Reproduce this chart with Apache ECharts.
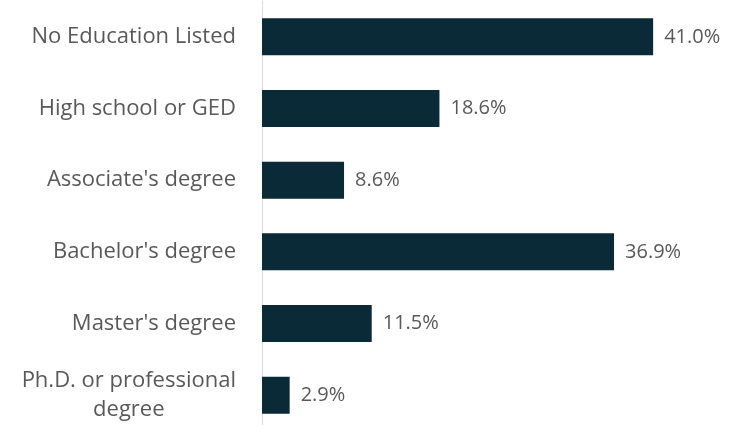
<!DOCTYPE html>
<html>
<head>
<meta charset="utf-8">
<script src="https://cdn.jsdelivr.net/npm/echarts@6/dist/echarts.min.js"></script>
<style>
  html, body { margin: 0; padding: 0; background: #fff; overflow: hidden; }
  #bar { width: 739px; height: 431px; }
</style>
</head>
<body>
<div id="bar"></div>
<script>
// 类别（从上到下）
var categories = [
  'No Education Listed',
  'High school or GED',
  "Associate's degree",
  "Bachelor's degree",
  "Master's degree",
  'Ph.D. or professional\ndegree'
];
var shares = [41.0, 18.6, 8.6, 36.9, 11.5, 2.9];

var chart = echarts.init(document.getElementById('bar'));
chart.setOption({
  animation: false,
  grid: {
    left: 262,
    right: 0,
    top: 1,
    bottom: 0
  },
  xAxis: {
    type: 'value',
    min: 0,
    max: 50,
    show: false
  },
  yAxis: {
    type: 'category',
    inverse: true,
    data: categories,
    axisTick: { show: false },
    axisLine: {
      show: true,
      lineStyle: { color: '#d9d9d9', width: 1 }
    },
    axisLabel: {
      margin: 26,
      color: '#595959',
      fontFamily: 'Open Sans',
      fontSize: 22,
      lineHeight: 29,
      formatter: function (v) {
        return v.split('\n').map(function (s) { return '{c|' + s + '}'; }).join('\n');
      },
      rich: {
        c: {
          align: 'center',
          color: '#595959',
          fontFamily: 'Open Sans',
          fontSize: 22,
          lineHeight: 29
        }
      }
    }
  },
  series: [{
    type: 'bar',
    barWidth: 37,
    data: shares,
    itemStyle: {
      color: '#0b2a37'
    },
    label: {
      show: true,
      position: 'right',
      distance: 11,
      color: '#595959',
      fontFamily: 'Open Sans',
      fontSize: 20,
      formatter: function (p) {
        return p.value.toFixed(1) + '%';
      }
    }
  }]
});
</script>
</body>
</html>
